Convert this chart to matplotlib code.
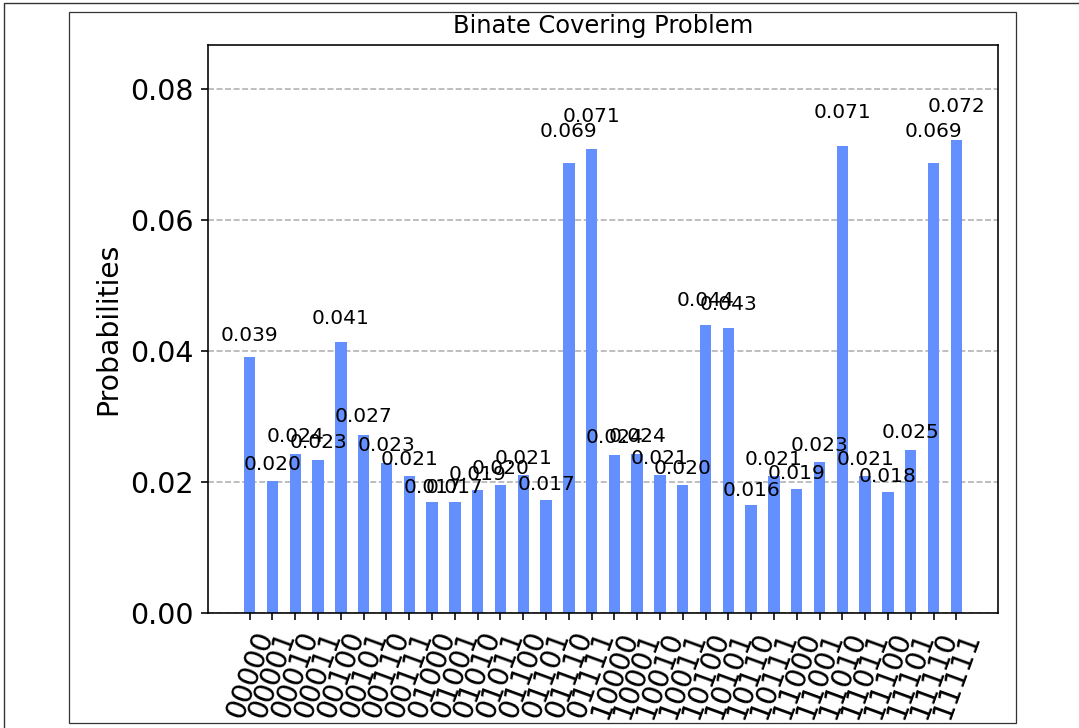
import numpy as np
import matplotlib
matplotlib.use("Agg")
import matplotlib.pyplot as plt
from matplotlib.patches import Rectangle

# measured outcome probabilities for the 5-qubit register
states = ["00000", "00001", "00010", "00011", "00100", "00101", "00110", "00111",
          "01000", "01001", "01010", "01011", "01100", "01101", "01110", "01111",
          "10000", "10001", "10010", "10011", "10100", "10101", "10110", "10111",
          "11000", "11001", "11010", "11011", "11100", "11101", "11110", "11111"]
probs = [0.0390, 0.0202, 0.0242, 0.0234, 0.0414, 0.0271, 0.0229, 0.0209,
         0.0169, 0.0169, 0.0187, 0.0196, 0.0211, 0.0173, 0.0686, 0.0708,
         0.0241, 0.0242, 0.0210, 0.0196, 0.0440, 0.0434, 0.0164, 0.0209,
         0.0189, 0.0230, 0.0713, 0.0209, 0.0185, 0.0248, 0.0686, 0.0722]
title = "Binate Covering Problem"

W, H = 1079, 728
fig = plt.figure(figsize=(W / 100, H / 100), dpi=100)

# screenshot frames around the figure
fig.patches.append(Rectangle((3.5 / W, -0.1), 1.2, 1.1 - 3.0 / H, transform=fig.transFigure,
                             fill=False, edgecolor="#333333", linewidth=1.0))
fig.patches.append(Rectangle((68.5 / W, 1 - 722.5 / H), (1016 - 68.5) / W, (722.5 - 12) / H,
                             transform=fig.transFigure, fill=False, edgecolor="#333333", linewidth=0.9))

ax = fig.add_axes([208 / W, 1 - 613 / H, (998 - 208) / W, (613 - 45) / H])

ind = np.arange(len(states))
rects = ax.bar(ind, probs, width=0.5, color="#648fff", zorder=2)

for rect in rects:
    height = rect.get_height()
    ax.text(rect.get_x() + rect.get_width() / 2., 1.05 * height, "%.3f" % float(height),
            ha="center", va="bottom", zorder=3, fontsize=14.5)

ax.set_ylim([0., max(probs) * 1.2])
ax.set_xticks(ind)
ax.set_xticklabels(states, fontsize=20.5, rotation=70)
ax.set_yticks([0.0, 0.02, 0.04, 0.06, 0.08])
ax.set_yticklabels(["0.00", "0.02", "0.04", "0.06", "0.08"])
ax.tick_params(axis="y", labelsize=20.5)
ax.tick_params(length=5, width=1.16, pad=5)
ax.set_ylabel("Probabilities", fontsize=20.3, labelpad=5.8)
ax.grid(axis="y", zorder=0, linestyle="--", linewidth=1.16)
for sp in ax.spines.values():
    sp.set_linewidth(1.16)
ax.set_title(title, fontsize=17.4, pad=9)

fig.savefig("out.png", dpi=100)
